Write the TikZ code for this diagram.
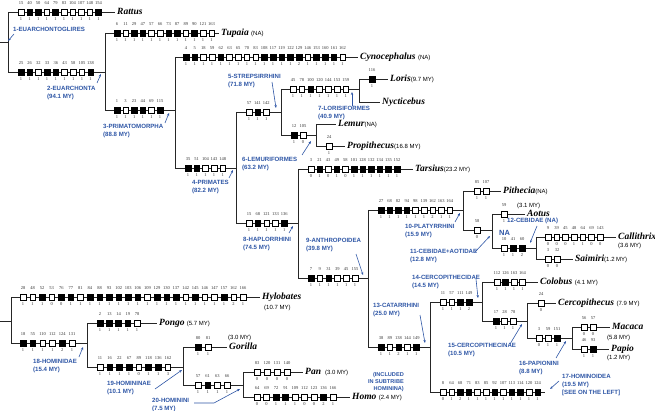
\documentclass[tikz,border=0pt]{standalone}
\usepackage{fontspec}
\setmainfont{Liberation Serif}
\newfontfamily\lsans{Liberation Sans}
\usetikzlibrary{arrows.meta}
\definecolor{cladeblue}{RGB}{45,85,165}
\colorlet{cO}{white}
\colorlet{cX}{black}
\newcommand\agef{\lsans\mdseries\upshape\fontsize{6}{7}\selectfont}
\newcommand\chrow[5]{%
  \foreach \cn/\cf/\cs [count=\ci from 0] in {#5} {
    \node[cbox, fill=c\cf] (#1-\ci) at ({#2+\ci*#4},#3) {};
    \node[cnum] (#1-n\ci) at ({#2+\ci*#4},{#3-9}) {\cn};
    \node[cnum] (#1-s\ci) at ({#2+\ci*#4},{#3+7}) {\cs};
  }}
\newcommand\note[3]{\coordinate (#1a) at (#2); \coordinate (#1b) at (#3); \draw[carr] (#1a) -- (#1b);}
\begin{document}
\begin{tikzpicture}[x=1pt,y=-1pt,
  br/.style={line width=0.65pt, draw=black!85},
  cbox/.style={draw, line width=0.45pt, minimum size=5.6pt, inner sep=0pt},
  cnum/.style={font=\fontsize{4.5}{5}\selectfont, inner sep=0pt, text=black!80},
  tax/.style={font=\fontsize{9.5}{10}\selectfont\bfseries\itshape, anchor=west, inner sep=0pt, text height=7pt, text depth=2pt},
  age/.style={font=\agef, anchor=west, inner sep=0pt},
  clade/.style={font=\lsans\bfseries\fontsize{6.1}{7.6}\selectfont, text=cladeblue, align=left, anchor=west, inner sep=0pt},
  carr/.style={draw=cladeblue, line width=0.6pt, -{Stealth[length=3pt,width=2.4pt]}},
  tip/.style={shorten >=2pt}
]
\useasboundingbox (0,0) rectangle (655,411);

% ---------- internal node points ----------
\coordinate (r1) at (0,42);
\coordinate (n1) at (8,42);
\coordinate (n2) at (105,72);
\coordinate (n3) at (175,110);
\coordinate (n4) at (236,168);
\coordinate (n5) at (281,112);
\coordinate (n6) at (316,135);
\coordinate (n7) at (359,89);
\coordinate (n8) at (298,223);
\coordinate (n9) at (368,278);
\coordinate (n10) at (463,210);
\coordinate (n11) at (492,230);
\coordinate (n12) at (536,248);
\coordinate (n13) at (430,347);
\coordinate (n14) at (482,302);
\coordinate (n15) at (527,321);
\coordinate (n16) at (572,338);
\coordinate (n17) at (545,392);
\coordinate (r2) at (0,321);
\coordinate (m17) at (11,321);
\coordinate (n18) at (87,343);
\coordinate (n19) at (183,367);
\coordinate (n20) at (243,385);

% ---------- taxa ----------
\node[tax] (rattus) at (117,12) {Rattus};
\node[tax] (tupaia) at (221,33) {Tupaia {\agef (NA)}};
\node[tax] (cyno) at (360,57) {Cynocephalus {\agef (NA)}};
\node[tax] (loris) at (390,79) {Loris{\agef (9.7 MY)}};
\node[tax] (nyct) at (382,102) {Nycticebus};
\node[tax] (lemur) at (338,124) {Lemur{\agef (NA)}};
\node[tax] (propith) at (347,146) {Propithecus{\agef (16.8 MY)}};
\node[tax] (tarsius) at (415,169) {Tarsius{\agef (23.2 MY)}};
\node[tax] (pithecia) at (503,191) {Pithecia{\agef (NA)}};
\node[tax] (aotus) at (527,214) {Aotus};
\node[age] (aotusage) at (517,206) {(3.1 MY)};
\node[tax] (callithrix) at (618,237) {Callithrix};
\node[age] (callage) at (618,246) {(3.6 MY)};
\node[tax] (saimiri) at (575,259) {Saimiri{\agef (1.2 MY)}};
\node[tax] (colobus) at (540,282) {Colobus {\agef (4.1 MY)}};
\node[tax] (cercop) at (558,303) {Cercopithecus {\agef (7.9 MY)}};
\node[tax] (macaca) at (612,327) {Macaca};
\node[age] (macage) at (607,338) {(5.8 MY)};
\node[tax] (papio) at (611,349) {Papio};
\node[age] (papage) at (607,358) {(1.2 MY)};
\node[tax] (hylobates) at (262,297) {Hylobates};
\node[age] (hylage) at (264,308) {(10.7 MY)};
\node[tax] (pongo) at (159,323) {Pongo {\agef (5.7 MY)}};
\node[tax] (gorilla) at (229,347) {Gorilla};
\node[age] (gorage) at (228,338) {(3.0 MY)};
\node[tax] (pan) at (305,372) {Pan {\agef\ (3.0 MY)}};
\node[tax] (homo) at (352,397) {Homo {\agef (2.4 MY)}};

% ---------- branches ----------
\draw[br] (r1) -- (n1);
\draw[br] (n1 |- rattus.west) -- (n1 |- n2);
\draw[br,tip] (n1 |- rattus.west) -- (rattus.west);
\draw[br] (n1 |- n2) -- (n2);
\draw[br] (n2 |- tupaia.west) -- (n2 |- n3);
\draw[br,tip] (n2 |- tupaia.west) -- (tupaia.west);
\draw[br] (n2 |- n3) -- (n3);
\draw[br] (n3 |- cyno.west) -- (n3 |- n4);
\draw[br,tip] (n3 |- cyno.west) -- (cyno.west);
\draw[br] (n3 |- n4) -- (n4);
\draw[br] (n4 |- n5) -- (n4 |- n8);
\draw[br] (n4 |- n5) -- (n5);
\draw[br] (n4 |- n8) -- (n8);
\draw[br] (n5 |- n7) -- (n5 |- n6);
\draw[br] (n5 |- n7) -- (n7);
\draw[br] (n5 |- n6) -- (n6);
\draw[br] (n7 |- loris.west) -- (n7 |- nyct.west);
\draw[br,tip] (n7 |- loris.west) -- (loris.west);
\draw[br,tip] (n7 |- nyct.west) -- (nyct.west);
\draw[br] (n6 |- lemur.west) -- (n6 |- propith.west);
\draw[br,tip] (n6 |- lemur.west) -- (lemur.west);
\draw[br,tip] (n6 |- propith.west) -- (propith.west);
\draw[br] (n8 |- tarsius.west) -- (n8 |- n9);
\draw[br,tip] (n8 |- tarsius.west) -- (tarsius.west);
\draw[br] (n8 |- n9) -- (n9);
\draw[br] (n9 |- n10) -- (n9 |- n13);
\draw[br] (n9 |- n10) -- (n10);
\draw[br] (n9 |- n13) -- (n13);
\draw[br] (n10 |- pithecia.west) -- (n10 |- n11);
\draw[br,tip] (n10 |- pithecia.west) -- (pithecia.west);
\draw[br] (n10 |- n11) -- (n11);
\draw[br] (n11 |- aotus.west) -- (n11 |- n12);
\draw[br,tip] (n11 |- aotus.west) -- (aotus.west);
\draw[br] (n11 |- n12) -- (n12);
\draw[br] (n12 |- callithrix.west) -- (n12 |- saimiri.west);
\draw[br,tip] (n12 |- callithrix.west) -- (callithrix.west);
\draw[br,tip] (n12 |- saimiri.west) -- (saimiri.west);
\draw[br] (n13 |- n14) -- (n13 |- n17);
\draw[br] (n13 |- n14) -- (n14);
\draw[br] (n13 |- n17) -- (n17);
\draw[br] (n14 |- colobus.west) -- (n14 |- n15);
\draw[br,tip] (n14 |- colobus.west) -- (colobus.west);
\draw[br] (n14 |- n15) -- (n15);
\draw[br] (n15 |- cercop.west) -- (n15 |- n16);
\draw[br,tip] (n15 |- cercop.west) -- (cercop.west);
\draw[br] (n15 |- n16) -- (n16);
\draw[br] (n16 |- macaca.west) -- (n16 |- papio.west);
\draw[br,tip] (n16 |- macaca.west) -- (macaca.west);
\draw[br,tip] (n16 |- papio.west) -- (papio.west);
\draw[br] (r2) -- (m17);
\draw[br] (m17 |- hylobates.west) -- (m17 |- n18);
\draw[br,tip] (m17 |- hylobates.west) -- (hylobates.west);
\draw[br] (m17 |- n18) -- (n18);
\draw[br] (n18 |- pongo.west) -- (n18 |- n19);
\draw[br,tip] (n18 |- pongo.west) -- (pongo.west);
\draw[br] (n18 |- n19) -- (n19);
\draw[br] (n19 |- gorilla.west) -- (n19 |- n20);
\draw[br,tip] (n19 |- gorilla.west) -- (gorilla.west);
\draw[br] (n19 |- n20) -- (n20);
\draw[br] (n20 |- pan.west) -- (n20 |- homo.west);
\draw[br,tip] (n20 |- pan.west) -- (pan.west);
\draw[br,tip] (n20 |- homo.west) -- (homo.west);

% ---------- character rows ----------
\chrow{rat}{21}{12}{8.6}{15/O/1,40/X/1,50/X/1,64/O/1,79/X/1,83/O/1,104/O/1,107/O/1,148/O/1,154/X/1}
\chrow{eua}{21}{72}{8.7}{25/X/1,26/X/1,32/O/1,33/X/1,36/X/1,43/O/1,58/O/1,105/O/1,138/X/1}
\chrow{tup}{117}{33}{8.6}{6/X/1,11/O/1,29/X/1,47/X/1,57/O/1,66/O/1,73/X/1,87/X/1,89/O/1,90/X/1,121/O/1,163/O/1}
\chrow{pmo}{117}{110}{8.6}{1/X/1,3/O/1,23/X/1,44/X/1,69/O/1,115/X/1}
\chrow{cyn}{186}{57}{8.7}{4/X/1,5/X/1,18/O/1,59/O/1,62/X/1,63/O/1,65/O/1,70/O/1,83/O/1,108/X/1,117/X/1,119/X/1,122/X/1,129/X/2,146/O/1,153/X/1,160/X/1,161/X/1,162/O/1}
\chrow{pri}{188}{168}{8.7}{35/X/1,51/X/1,104/O/1,143/O/1,148/O/1}
\chrow{str}{249}{112}{8.6}{57/O/1,141/X/1,142/O/1}
\chrow{lor}{293}{89}{8.8}{45/O/1,78/O/1,100/X/1,120/O/1,144/O/1,153/O/1,159/O/1}
\chrow{lrs}{372}{79}{9}{116/X/1}
\chrow{lem}{294}{135}{9}{12/X/1,105/O/0}
\chrow{pro}{329}{146}{9}{24/O/1}
\chrow{hap}{249}{223}{8.8}{15/O/1,68/X/1,121/O/1,133/O/1,136/X/1}
\chrow{tar}{311}{169}{8.6}{3/O/0,21/X/1,43/O/0,49/X/1,58/O/0,101/X/1,128/X/1,132/X/1,134/X/1,135/X/1,152/X/1}
\chrow{ant}{311}{278}{8.8}{7/X/1,9/O/1,31/X/1,39/O/1,45/O/1,155/O/1}
\chrow{pla}{381}{210}{8.6}{27/X/1,68/X/1,82/X/1,94/X/1,98/O/1,139/O/1,162/O/2,163/O/1,164/O/1}
\chrow{pit}{477}{191}{9}{85/O/1,107/O/1}
\chrow{cea}{477}{230}{9}{58/O/0}
\chrow{aot}{504}{214}{9}{59/O/1}
\chrow{ceb}{504}{248}{9}{10/O/1,41/X/1,60/X/2}
\chrow{cal}{548}{237}{8.7}{9/O/0,39/O/0,45/O/0,48/O/1,64/O/1,69/O/0,143/O/0}
\chrow{sai}{548}{259}{9}{3/O/0,32/O/0}
\chrow{cat}{381}{347}{8.8}{38/X/1,89/O/1,138/X/2,144/O/1,149/X/1}
\chrow{cer}{443}{302}{8.7}{11/O/1,57/O/1,111/X/1,149/X/2}
\chrow{col}{497}{282}{8.5}{112/O/1,126/X/1,163/O/1,164/O/1}
\chrow{cin}{496}{321}{8.5}{17/X/1,28/O/1,78/O/1}
\chrow{cps}{541}{303}{9}{24/O/0}
\chrow{pap}{539}{338}{9}{3/O/0,59/O/1,151/X/1}
\chrow{mac}{584}{327}{9}{56/O/0,57/O/0}
\chrow{pao}{584}{349}{9}{46/O/1,93/X/1}
\chrow{hoi}{443}{392}{8.6}{8/O/0,64/O/1,68/X/2,71/X/1,83/O/1,85/O/1,92/X/1,107/O/1,113/X/1,114/X/1,120/O/1,124/X/1}
\chrow{hyl}{23}{297}{9.57}{28/O/1,48/O/1,52/X/1,53/O/0,76/X/0,77/X/1,81/O/1,84/X/1,88/X/1,93/X/1,102/X/1,103/X/1,106/X/1,109/O/1,129/X/1,130/X/1,137/X/1,142/O/1,145/X/1,146/O/1,147/O/1,157/X/1,162/O/2,166/O/1}
\chrow{hmd}{23}{343}{9.8}{18/X/1,55/X/1,110/O/1,112/O/1,124/X/2,131/O/1}
\chrow{pon}{100}{323}{9.25}{2/X/1,13/X/1,14/X/1,19/X/1,78/O/1}
\chrow{hmn}{100}{367}{9.7}{11/O/1,16/X/1,22/X/1,67/X/1,89/O/0,118/X/1,136/X/1,162/O/3}
\chrow{gor}{198}{347}{10}{80/X/1,81/O/1}
\chrow{hmi}{198}{385}{9.7}{57/O/1,61/X/1,63/O/1,66/O/1}
\chrow{pan}{257}{372}{10}{83/O/0,120/O/0,131/O/0,140/O/0}
\chrow{hom}{257}{397}{9.5}{64/O/0,69/O/0,72/X/1,91/X/1,109/O/1,112/O/0,123/O/0,136/X/2,166/O/1}

% ---------- clade labels ----------
\node[clade] (l1) at (13,29) {1-EUARCHONTOGLIRES};
\node[clade] (l2) at (47,93) {2-EUARCHONTA\\(94.1 MY)};
\node[clade] (l3) at (103,131) {3-PRIMATOMORPHA\\(88.8 MY)};
\node[clade] (l4) at (192,187) {4-PRIMATES\\(82.2 MY)};
\node[clade] (l5) at (228,81) {5-STREPSIRRHINI\\(71.8 MY)};
\node[clade] (l6) at (242,164) {6-LEMURIFORMES\\(63.2 MY)};
\node[clade] (l7) at (318,113) {7-LORISIFORMES\\(40.9 MY)};
\node[clade] (l8) at (243,244) {8-HAPLORRHINI\\(74.5 MY)};
\node[clade] (l9) at (306,245) {9-ANTHROPOIDEA\\(39.8 MY)};
\node[clade] (l10) at (405,231) {10-PLATYRRHINI\\(15.9 MY)};
\node[clade] (l11) at (410,256) {11-CEBIDAE+AOTIDAE\\(12.8 MY)};
\node[clade] (l12) at (507,221) {12-CEBIDAE (NA)};
\node[clade, font=\lsans\bfseries\fontsize{7.5}{8}\selectfont] (lna) at (499,233) {NA};
\node[clade] (l13) at (373,310) {13-CATARRHINI\\(25.0 MY)};
\node[clade] (l14) at (412,282) {14-CERCOPITHECIDAE\\(14.5 MY)};
\node[clade] (l15) at (448,350) {15-CERCOPITHECINAE\\(10.5 MY)};
\node[clade] (l16) at (519,368) {16-PAPIONINI\\(8.8 MY)};
\node[clade] (l17) at (562,385) {17-HOMINOIDEA\\(19.5 MY)\\{[}SEE ON THE LEFT{]}};
\node[clade] (l18) at (33,366) {18-HOMINIDAE\\(15.4 MY)};
\node[clade] (l19) at (107,388) {19-HOMININAE\\(10.1 MY)};
\node[clade] (l20) at (152,405) {20-HOMININI\\(7.5 MY)};
\node[clade, font=\lsans\bfseries\fontsize{5.6}{7}\selectfont, align=right, anchor=east] (linc) at (404,382) {(INCLUDED\\IN SUBTRIBE\\HOMININA)};

% ---------- label arrows ----------
\note{a1}{14,34}{8,41}
\note{a2}{97,83}{101,74}
\note{a3}{165,123}{169,113}
\note{a4}{229,178}{233,170}
\note{a5}{272,82}{276,108}
\note{a6}{302,155}{311,141}
\note{a7}{352,106}{352,92}
\note{a8}{289,233}{293,226}
\note{a9}{356,254}{363,275}
\note{a10}{455,222}{460,213}
\note{a11}{475,252}{490,236}
\note{a12}{537,226}{530,243}
\note{a13}{420,315}{425,343}
\note{a14}{476,279}{478,298}
\note{a15}{510,344}{522,324}
\note{a16}{556,358}{566,341}
\note{a17}{559,381}{550,389}
\note{a18}{79,357}{83,347}
\note{a19}{155,389}{182,370}
\coordinate (a20a) at (194,403);
\coordinate (a20m) at (214,403);
\coordinate (a20b) at (240,389);
\draw[carr] (a20a) -- (a20m) -- (a20b);
\end{tikzpicture}
\end{document}
